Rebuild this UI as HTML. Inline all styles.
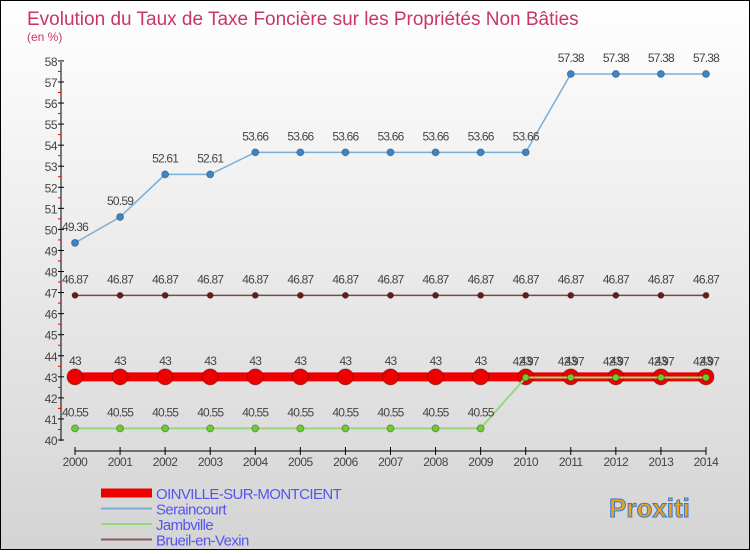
<!DOCTYPE html>
<html><head><meta charset="utf-8"><style>
body{margin:0}
#c{width:748px;height:548px;border:1px solid #000;background:linear-gradient(#fff,#d4d4d4);position:relative;font-family:"Liberation Sans",sans-serif}
</style></head><body>
<div id="c">
<svg id="s" width="748" height="548"></svg>
</div>
<script>
const years=[2000,2001,2002,2003,2004,2005,2006,2007,2008,2009,2010,2011,2012,2013,2014];
const oinville=[43,43,43,43,43,43,43,43,43,43,43,43,43,43,43];
const seraincourt=[49.36,50.59,52.61,52.61,53.66,53.66,53.66,53.66,53.66,53.66,53.66,57.38,57.38,57.38,57.38];
const jambville=[40.55,40.55,40.55,40.55,40.55,40.55,40.55,40.55,40.55,40.55,42.97,42.97,42.97,42.97,42.97];
const brueil=[46.87,46.87,46.87,46.87,46.87,46.87,46.87,46.87,46.87,46.87,46.87,46.87,46.87,46.87,46.87];
const yTicks=[40,41,42,43,44,45,46,47,48,49,50,51,52,53,54,55,56,57,58];
const NS="http://www.w3.org/2000/svg",s=document.getElementById('s');
const X=i=>74+i*45.07, Y=v=>439-(v-40)*21.06;
function el(t,a,p){const e=document.createElementNS(NS,t);for(const k in a)e.setAttribute(k,a[k]);(p||s).appendChild(e);return e;}
function tx(x,y,str,a){const e=el('text',Object.assign({x:x,y:y},a));e.textContent=str;return e;}
let t=tx(26,24,'Evolution du Taux de Taxe Foncière sur les Propriétés Non Bâties',{fill:'#c8356a','font-size':19});

t=tx(26,40,'(en %)',{fill:'#c8356a','font-size':12});

// axes
let a=el('line',{x1:60,y1:61,x2:60,y2:440,stroke:'#000'});
a=el('line',{x1:74,y1:450,x2:705,y2:450,stroke:'#000'});
yTicks.forEach(v=>{el('line',{x1:57,x2:63,y1:Y(v),y2:Y(v),stroke:'#000'});
 if(v<58)el('line',{x1:57,x2:60,y1:Y(v+0.5),y2:Y(v+0.5),stroke:'#e00'});
 const l=tx(56,Y(v)+5,v,{'text-anchor':'end','font-size':12,fill:'#444','letter-spacing':'-0.5'});
 });
years.forEach((y,i)=>{el('line',{x1:X(i),x2:X(i),y1:446,y2:454,stroke:'#000'});
 const l=tx(X(i),465,y,{'text-anchor':'middle','font-size':12,fill:'#444','letter-spacing':'-0.5'});
 });
function series(d,name,color,w,r,dot,fmt){
 const g=el('g',{});
 el('polyline',{points:d.map((v,i)=>X(i)+','+Y(v)).join(' '),fill:'none',stroke:color,'stroke-width':w},g);
 d.forEach((v,i)=>{const c=el('circle',{cx:X(i),cy:Y(v),r:r,fill:dot,stroke:'rgba(0,0,0,0.3)'},g);
  
  tx(X(i),Y(v)-12,fmt(v),{'text-anchor':'middle','font-size':12,fill:'#444','letter-spacing':'-0.8'},g);});
}
series(brueil,'brueil','#7a4a4a',1.5,3,'#6b1a1a',v=>v.toFixed(2));
series(seraincourt,'seraincourt','#7aaed6',1.5,3.5,'#3a86c8',v=>v.toFixed(2));
series(oinville,'oinville','#e00',9,8,'#e00',v=>String(v));
series(jambville,'jambville','#9ad67a',2,3.5,'#6ccc33',v=>v.toFixed(2));
// legend
const leg=[['OINVILLE-SUR-MONTCIENT','#e00',9],['Seraincourt','#7aaed6',2],['Jambville','#9ad67a',2],['Brueil-en-Vexin','#8a5a5a',2]];
leg.forEach((l,i)=>{const yy=492+i*15.5;const g=el('g',{});
 el('line',{x1:100,x2:151,y1:yy,y2:yy,stroke:l[1],'stroke-width':l[2]},g);
 tx(155,yy+6,l[0],{fill:'#5555ee','font-size':15,'letter-spacing':'-0.6'},g);});
t=tx(608,516,'Proxiti',{'font-size':26,'font-weight':'bold',fill:'#f0a020',stroke:'#3a7ac8','stroke-width':1});

</script>
</body></html>
